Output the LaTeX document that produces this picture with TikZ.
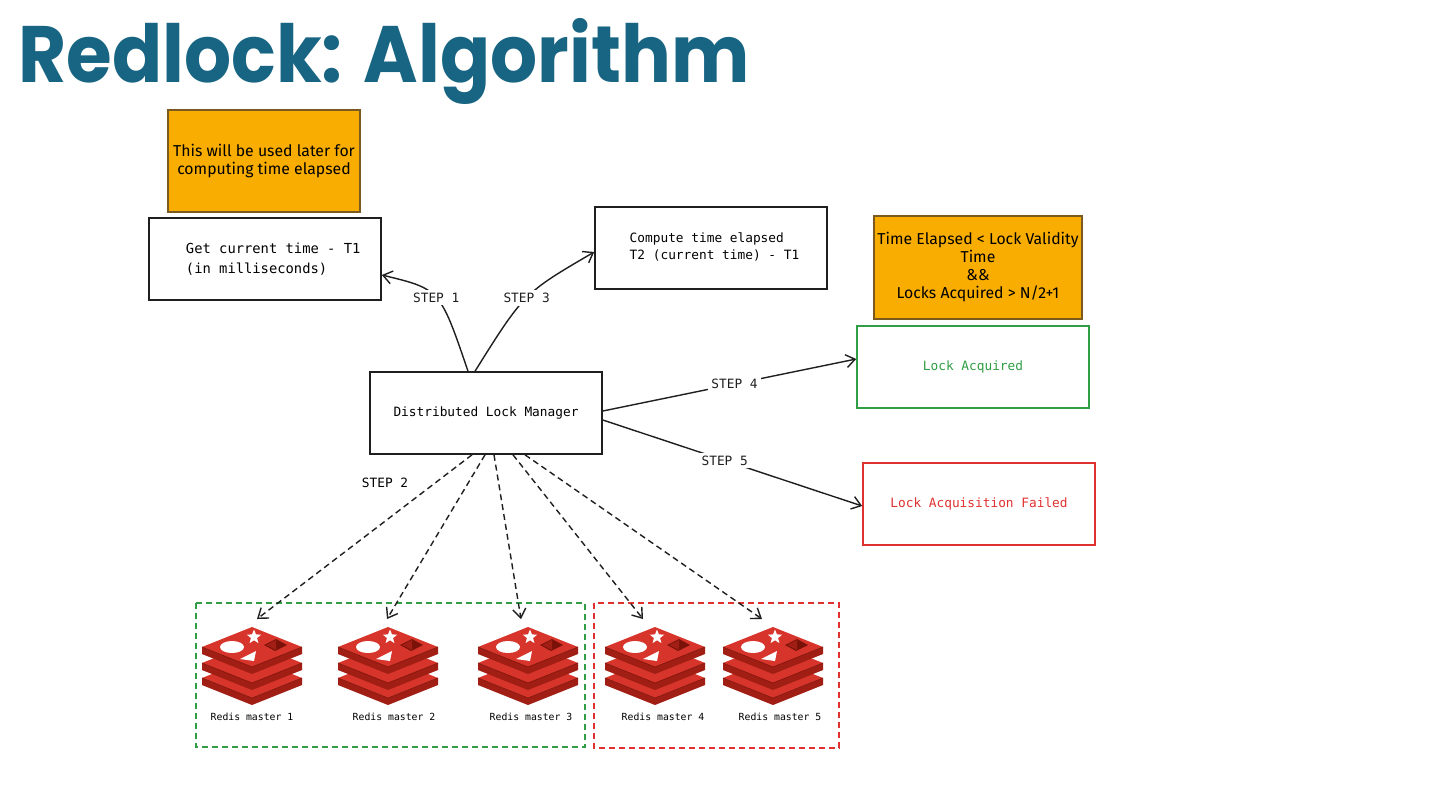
\documentclass[tikz,border=0pt]{standalone}
\usepackage{fontspec}
\setmonofont{DejaVu Sans Mono}[WordSpace={1,0,0}]
\newfontfamily\titlefont{Poppins}[FakeStretch=0.925]
\newfontfamily\handfont{Fira Sans}
\usetikzlibrary{arrows.meta,shapes.geometric}

\definecolor{titleteal}{HTML}{176582}
\definecolor{noteorange}{HTML}{F9AD00}
\definecolor{noteedge}{HTML}{7A5A1E}
\definecolor{okgreen}{HTML}{2F9E44}
\definecolor{failred}{HTML}{E03131}
\definecolor{redistop}{HTML}{D7352B}
\definecolor{redisside}{HTML}{A11E14}
\definecolor{redisdark}{HTML}{7A1209}

\tikzset{
    box/.style={draw=black!88, line width=0.8pt, minimum width=116pt, minimum height=41pt,
                font=\ttfamily\fontsize{6.4}{8.5}\selectfont},
    note/.style={draw=noteedge, fill=noteorange, line width=0.6pt, align=center, inner xsep=1pt,
                 font=\handfont\fontsize{7.9}{9}\selectfont},
    steplabel/.style={font=\ttfamily\fontsize{6.4}{8}\selectfont, fill=white, inner sep=1.5pt},
    redislabel/.style={font=\ttfamily\fontsize{4.9}{6}\selectfont},
    arrow/.style={-{Straight Barb[length=4.5pt,width=6.5pt]}, line width=0.7pt, black!88},
    dasharrow/.style={arrow, dash pattern=on 3pt off 2pt},
    groupok/.style={draw=okgreen, line width=0.7pt, dash pattern=on 3pt off 2pt},
    groupfail/.style={draw=failred, line width=0.7pt, dash pattern=on 3pt off 2pt},
    redisstack/.pic={
        \foreach \dy in {31,16,0} {
            \fill[redisside] (-50,\dy) -- (0,\dy+20) -- (50,\dy) -- (50,\dy+7) -- (0,\dy+27) -- (-50,\dy+7) -- cycle;
            \fill[redistop] (-50,\dy) -- (0,\dy-20) -- (50,\dy) -- (0,\dy+20) -- cycle;
            \draw[redisdark, line width=0.3pt] (-50,\dy) -- (0,\dy+20) -- (50,\dy);
        }
        \fill[white] (-20,0) ellipse [x radius=12, y radius=6];
        \node[star, star points=5, star point ratio=2.3, fill=white, minimum size=7.5pt, inner sep=0pt] (-star) at (2,-10) {};
        \fill[white] (-12,12) -- (4,4) -- (2,14) -- cycle;
        \fill[redisdark] (12,-2) -- (24,-8) -- (35,-2) -- (23,4) -- cycle;
        \fill[redisside] (14,-2) -- (24,-7) -- (24,3) -- cycle;
        \coordinate (-top) at (0,-22);
    }
}

\begin{document}
\begin{tikzpicture}[x=0.5pt, y=-0.5pt]
    \fill[white] (0,0) rectangle (1440,810);
    \useasboundingbox (0,0) rectangle (1440,810);

    % title
    \node[anchor=base west, inner sep=0pt, text=titleteal, font=\titlefont\bfseries\fontsize{40}{40}\selectfont] (title) at (18,82) {Redlock: Algorithm};

    % notes
    \node[note, minimum width=96pt, minimum height=51pt] (note1) at (264,161) {This will be used later for\\computing time elapsed};
    \node[note, minimum width=104pt, minimum height=51.5pt] (note2) at (978,267.5) {Time Elapsed < Lock Validity\\Time\\\&\&\\Locks Acquired > N/2+1};

    % boxes
    \node[box, font=\ttfamily\fontsize{6.9}{10}\selectfont] (get) at (265,259)
        {\begin{tabular}{@{\hspace{8.2pt}}l@{}}Get current time - T1\\(in milliseconds)\end{tabular}};
    \node[box] (compute) at (711,248)
        {\begin{tabular}{@{\hspace{3.5pt}}l@{}}Compute time elapsed\\T2 (current time) - T1\end{tabular}};
    \node[box] (dlm) at (486,413) {Distributed Lock Manager};
    \node[box, draw=okgreen, text=okgreen] (lockok) at (973,367) {Lock Acquired};
    \node[box, draw=failred, text=failred] (failed) at (979,504) {Lock Acquisition Failed};

    % groups of masters
    \draw[groupok] (196,603) rectangle (585,747);
    \draw[groupfail] (594,603) rectangle (839,748);

    % redis masters
    \foreach \i/\x/\lx in {1/252/252, 2/388/394, 3/528/531, 4/655/663, 5/773/780} {
        \pic (r\i) at (\x,647) {redisstack};
        \node[redislabel] (m\i) at (\lx,717) {Redis master \i};
    }

    % steps
    \draw[arrow] ([xshift=-9pt]dlm.north) .. controls (440,289) .. ([yshift=-8pt]get.east) node[steplabel, pos=0.5] (s1) {STEP 1};
    \draw[arrow] ([xshift=-5.5pt]dlm.north) .. controls (524,293) .. ([yshift=-2pt]compute.west) node[steplabel, pos=0.5] (s3) {STEP 3};
    \draw[arrow] ([yshift=1pt]dlm.east) -- ([yshift=4pt]lockok.west) node[steplabel, pos=0.52] (s4) {STEP 4};
    \draw[arrow] ([yshift=-3.5pt]dlm.east) -- ([yshift=-1pt]failed.west) node[steplabel, pos=0.47] (s5) {STEP 5};
    \node[steplabel] (s2) at (385,483) {STEP 2};
    \foreach \i/\a/\b in {1/-7/2.5, 2/-0.5/-0.5, 3/4/-3.5, 4/13.5/-6, 5/19.5/-5.5}
        \draw[dasharrow] ([xshift=\a pt]dlm.south) -- ([xshift=\b pt, yshift=3pt]r\i-top);
\end{tikzpicture}
\end{document}
